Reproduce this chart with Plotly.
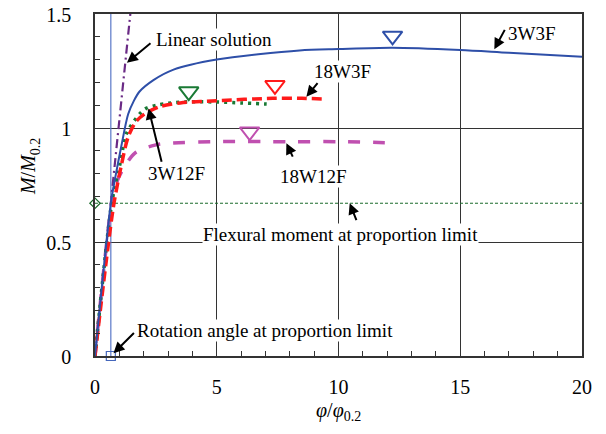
import plotly.graph_objects as go

# ---- data ----
x_3w3f = [0, 0.65, 0.81, 1.08, 1.36, 1.6, 1.83, 2.4, 3.2, 5, 8.4, 10, 12.2, 15, 17, 20]
y_3w3f = [0, 0.67, 0.77, 0.92, 1.06, 1.12, 1.16, 1.21, 1.255, 1.30, 1.34, 1.346, 1.352, 1.342, 1.33, 1.313]

x_18w3f = [0, 0.75, 1.07, 1.36, 1.7, 2.1, 2.66, 3.5, 5, 7.3, 8.5, 9.4]
y_18w3f = [0, 0.65, 0.83, 0.96, 1.03, 1.066, 1.094, 1.11, 1.12, 1.13, 1.13, 1.127]

x_3w12f = [0, 0.7, 1.03, 1.3, 1.85, 2.1, 2.53, 3.0, 3.8, 5, 6, 7.05]
y_3w12f = [0, 0.68, 0.845, 0.977, 1.064, 1.086, 1.10, 1.108, 1.115, 1.114, 1.11, 1.105]

x_18w12f = [0, 0.68, 0.85, 1.1, 1.64, 2.46, 3.0, 5, 8, 10, 12.2]
y_18w12f = [0, 0.67, 0.75, 0.81, 0.89, 0.925, 0.933, 0.94, 0.94, 0.94, 0.935]

x_linear = [0, 1.45]
y_linear = [0, 1.5]

peak_x = [12.22, 7.39, 3.85, 6.35]
peak_y = [1.404, 1.187, 1.16, 0.984]
peak_colors = ["#2E4FA8", "#FF1A1A", "#1A7A35", "#C050B0"]

prop_moment = 0.67
prop_angle = 0.65

x_ticks = [0, 5, 10, 15, 20]
y_ticks = [0, 0.5, 1, 1.5]
y_ticklabels = ["0", "0.5", "1", "1.5"]

FONT = "Liberation Serif"

fig = go.Figure()

# proportion limit lines
fig.add_trace(go.Scatter(x=[0, 20], y=[prop_moment, prop_moment], mode="lines",
                         line=dict(color="#1A6B2A", width=1, dash="3px,2px"), showlegend=False))
fig.add_trace(go.Scatter(x=[prop_angle, prop_angle], y=[0, 1.5], mode="lines",
                         line=dict(color="#5A78C8", width=1.2), showlegend=False))

# curves
fig.add_trace(go.Scatter(x=x_linear, y=y_linear, mode="lines",
                         line=dict(color="#6A2A85", width=2.2, dash="9px,4px,2px,4px"), showlegend=False))
fig.add_trace(go.Scatter(x=x_18w12f, y=y_18w12f, mode="lines", line_shape="spline", line_smoothing=0.8,
                         line=dict(color="#C050B0", width=3.5, dash="12px,13px"), showlegend=False))
fig.add_trace(go.Scatter(x=x_3w12f, y=y_3w12f, mode="lines", line_shape="spline", line_smoothing=0.8,
                         line=dict(color="#1A7A35", width=3.5, dash="3px,5px"), showlegend=False))
fig.add_trace(go.Scatter(x=x_18w3f, y=y_18w3f, mode="lines", line_shape="spline", line_smoothing=0.8,
                         line=dict(color="#FF1A1A", width=3.5, dash="10px,5px"), showlegend=False))
fig.add_trace(go.Scatter(x=x_3w3f, y=y_3w3f, mode="lines", line_shape="spline", line_smoothing=0.8,
                         line=dict(color="#2E4FA8", width=2), showlegend=False))

# peak markers
for px, py, c in zip(peak_x, peak_y, peak_colors):
    fig.add_trace(go.Scatter(x=[px], y=[py], mode="markers", cliponaxis=False,
                             marker=dict(symbol="triangle-down-open", size=17, color=c, line=dict(width=2, color=c)),
                             showlegend=False))

fig.add_trace(go.Scatter(x=[0], y=[prop_moment], mode="markers", cliponaxis=False,
                         marker=dict(symbol="diamond-open", size=8, color="#1A6B2A", line=dict(width=1.2)),
                         showlegend=False))
fig.add_trace(go.Scatter(x=[prop_angle], y=[0], mode="markers", cliponaxis=False,
                         marker=dict(symbol="square-open", size=9, color="#4466BB", line=dict(width=1.2)),
                         showlegend=False))

# text labels
labels = [
    ("Linear solution", 2.48, 1.386, "left"),
    ("3W3F", 17.93, 1.415, "center"),
    ("18W3F", 10.16, 1.247, "center"),
    ("3W12F", 3.34, 0.801, "center"),
    ("18W12F", 8.97, 0.789, "center"),
    ("Flexural moment at proportion limit", 10.08, 0.531, "center"),
    ("Rotation angle at proportion limit", 7.0, 0.11, "center"),
]
for t, x, y, xa in labels:
    fig.add_annotation(x=x, y=y, text=t, showarrow=False, xanchor=xa, yanchor="middle",
                       bgcolor="white", borderpad=0, font=dict(family=FONT, size=19, color="black"))

# arrows (head, tail)
arrows = [
    ((1.31, 1.286), (2.34, 1.377)),
    ((16.40, 1.345), (16.86, 1.437)),
    ((8.68, 1.137), (9.19, 1.203)),
    ((2.20, 1.086), (2.75, 0.845)),
    ((7.86, 0.933), (8.15, 0.868)),
    ((10.46, 0.67), (10.76, 0.589)),
    ((0.76, 0.012), (1.66, 0.107)),
]
for (hx, hy), (tx, ty) in arrows:
    fig.add_annotation(x=hx, y=hy, ax=tx, ay=ty, axref="x", ayref="y", text="",
                       showarrow=True, arrowhead=2, arrowsize=1.1, arrowwidth=2, arrowcolor="black")

# axis titles
fig.add_annotation(xref="paper", yref="paper", x=0.5, y=-0.163, yanchor="middle",
                   text="<i>φ</i>/<i>φ</i><sub>0.2</sub>", showarrow=False,
                   font=dict(family=FONT, size=20, color="black"))
fig.add_annotation(xref="paper", yref="paper", x=-0.133, y=0.553, xanchor="center", yanchor="middle",
                   text="<i>M</i>/<i>M</i><sub>0.2</sub>", showarrow=False, textangle=-90,
                   font=dict(family=FONT, size=20, color="black"))

fig.update_xaxes(range=[0, 20], tickvals=x_ticks, ticktext=[str(v) for v in x_ticks],
                 showgrid=True, gridcolor="#333333", gridwidth=1, automargin=False,
                 showline=True, mirror=True, linecolor="#333333", linewidth=1.5,
                 ticks="inside", ticklen=5, tickcolor="#333333", ticklabeloverflow="allow",
                 minor=dict(dtick=1, ticks="inside", ticklen=5, tickcolor="#333333", showgrid=False),
                 zeroline=False, ticklabelstandoff=12,
                 tickfont=dict(family=FONT, size=20, color="black"))
fig.update_yaxes(range=[0, 1.5], tickvals=y_ticks, ticktext=y_ticklabels,
                 showgrid=True, gridcolor="#333333", gridwidth=1, automargin=False,
                 showline=True, mirror=True, linecolor="#333333", linewidth=1.5,
                 ticks="inside", ticklen=5, tickcolor="#333333", ticklabeloverflow="allow",
                 minor=dict(dtick=0.1, ticks="inside", ticklen=5, tickcolor="#333333", showgrid=False),
                 zeroline=False, ticklabelstandoff=18, ticklabelshift=1,
                 tickfont=dict(family=FONT, size=20, color="black"))

fig.update_layout(width=606, height=434, margin=dict(l=87, r=32, t=6, b=86, autoexpand=False),
                  plot_bgcolor="white", paper_bgcolor="white", showlegend=False)

fig.write_html("out.html")
